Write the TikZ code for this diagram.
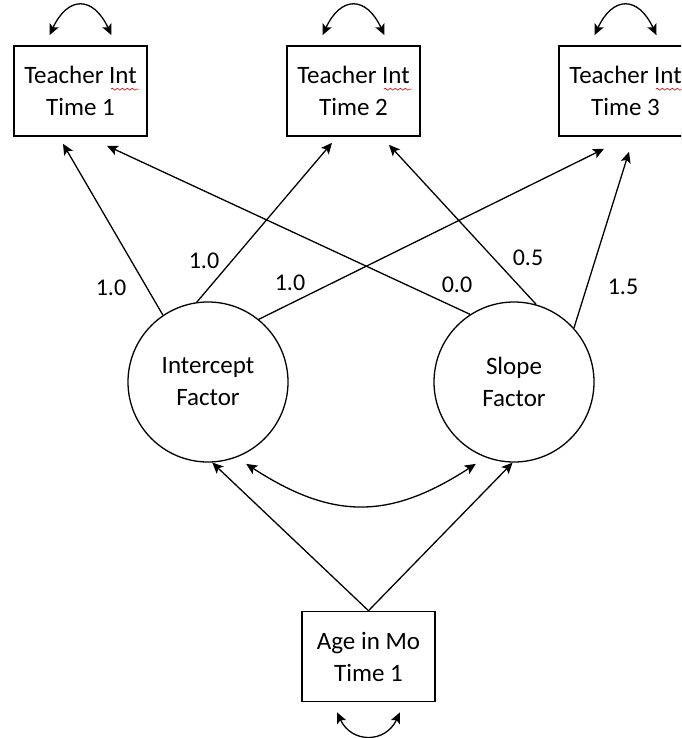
\documentclass[tikz,border=0pt]{standalone}
\usepackage{fontspec}
\setmainfont{Carlito}
\usepackage{tikz}
\usetikzlibrary{arrows.meta,calc,decorations.pathmorphing}

\begin{document}
\begin{tikzpicture}[x=1pt,y=-1pt,>={Stealth[length=11pt,width=10pt,inset=2.5pt]},line width=1.3pt,
                    font=\fontsize{25}{32}\selectfont]
  \tikzstyle{obs}=[rectangle,draw=black,line width=1.6pt,fill=white,align=center,
                   minimum width=133pt,minimum height=90pt,inner sep=0pt]
  \tikzstyle{lat}=[circle,draw=black,line width=1.3pt,align=center,minimum size=160pt,inner sep=0pt]
  \tikzstyle{load}=[->]
  \tikzstyle{var}=[<->,out=65,in=115,looseness=1.8]
  \tikzstyle{wt}=[font=\fontsize{24}{28}\selectfont]
  \tikzstyle{squig}=[red!80!black,line width=0.6pt,decorate,
                     decoration={snake,amplitude=1pt,segment length=5pt}]

  \useasboundingbox (0,0) rectangle (681,738);
  \clip (0,0) rectangle (681,738);

  \node[obs] (t1) at (80.5,91)  {Teacher Int\\Time 1};
  \node[obs] (t2) at (353.5,91) {Teacher Int\\Time 2};
  \node[obs] (t3) at (625.5,91) {Teacher Int\\Time 3};
  \node[lat] (icpt) at (208,382) {Intercept\\Factor};
  \node[lat] (slp)  at (514,382) {Slope\\Factor};
  \node[obs] (age) at (368.5,656.5) {Age in Mo\\Time 1};

  \foreach \t in {t1,t2,t3}{
    \draw[squig] ([shift={(-37,44)}]\t.north east) -- ([shift={(-9,44)}]\t.north east);
    \draw[var] ([shift={(-31,-10)}]\t.north) to ([shift={(31,-10)}]\t.north);
  }

  \draw[load] (icpt.124) -- ([shift={(-17.5,7)}]t1.south);
  \draw[load] (icpt.98)  -- ([shift={(-21.5,6)}]t2.south);
  \draw[load] (icpt.51)  -- ([shift={(-21.5,12)}]t3.south);
  \draw[load] (slp.123)  -- ([shift={(26.5,9)}]t1.south);
  \draw[load] (slp.74)   -- ([shift={(35.5,8)}]t2.south);
  \draw[load] (slp.42)   -- ([shift={(3.5,15)}]t3.south);

  \node[wt] (w1) at (111,288) {1.0};
  \node[wt] (w2) at (204,261) {1.0};
  \node[wt] (w3) at (290,283) {1.0};
  \node[wt] (w4) at (457,285) {0.0};
  \node[wt] (w5) at (528,258) {0.5};
  \node[wt] (w6) at (623,287) {1.5};

  \draw[load] (age.north) -- (icpt.-87);
  \draw[load] (age.north) -- (slp.-91);
  \draw[<->] ($(icpt)!1.12!(icpt.-65)$) to[out=-33,in=-147,looseness=1.15] ($(slp)!1.12!(slp.-115)$);
  \draw[<->] ([shift={(-31.5,10)}]age.south) to[out=-65,in=-115,looseness=1.4] ([shift={(31.5,10)}]age.south);
\end{tikzpicture}
\end{document}
